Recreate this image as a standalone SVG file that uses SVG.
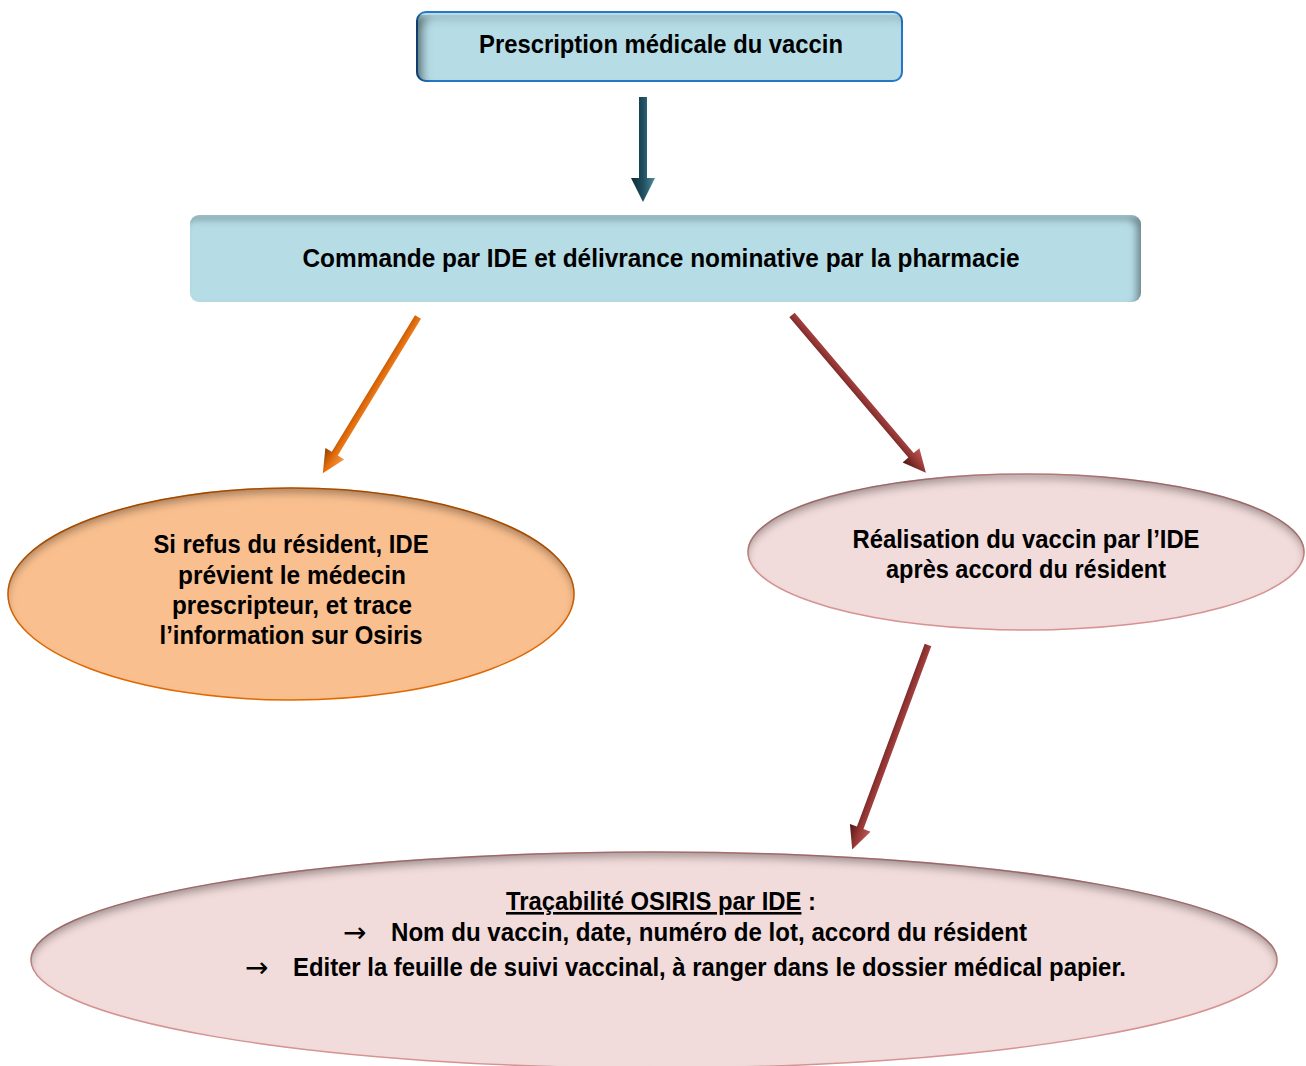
<svg xmlns="http://www.w3.org/2000/svg" width="1306" height="1066" viewBox="0 0 1306 1066">
<defs>
<style>
.t{font-family:"Liberation Sans",Arial,sans-serif;font-weight:bold;font-size:26px;fill:#000;text-anchor:middle}
.ts{font-family:"Liberation Sans",Arial,sans-serif;font-weight:bold;font-size:26px;fill:#000}
.ar{font-family:"DejaVu Sans",sans-serif;font-size:28px;fill:#000}
</style>
<filter id="innerTL" x="-5%" y="-5%" width="110%" height="110%">
<feFlood flood-color="#000" flood-opacity="0.8"/>
<feComposite in2="SourceAlpha" operator="out"/>
<feGaussianBlur stdDeviation="5"/>
<feOffset dx="7" dy="7"/>
<feComposite in2="SourceAlpha" operator="in" result="sh"/>
<feMerge><feMergeNode in="SourceGraphic"/><feMergeNode in="sh"/></feMerge>
</filter>
<filter id="innerTR" x="-5%" y="-5%" width="110%" height="110%">
<feFlood flood-color="#000" flood-opacity="0.65"/>
<feComposite in2="SourceAlpha" operator="out"/>
<feGaussianBlur stdDeviation="3.5"/>
<feOffset dx="-5" dy="5"/>
<feComposite in2="SourceAlpha" operator="in" result="sh"/>
<feMerge><feMergeNode in="SourceGraphic"/><feMergeNode in="sh"/></feMerge>
</filter>
<filter id="innerT" x="-5%" y="-5%" width="110%" height="110%">
<feFlood flood-color="#000" flood-opacity="0.6"/>
<feComposite in2="SourceAlpha" operator="out"/>
<feGaussianBlur stdDeviation="4"/>
<feOffset dx="0" dy="6"/>
<feComposite in2="SourceAlpha" operator="in" result="sh"/>
<feMerge><feMergeNode in="SourceGraphic"/><feMergeNode in="sh"/></feMerge>
</filter>
<linearGradient id="gTeal" x1="0" y1="0" x2="0" y2="1">
<stop offset="0" stop-color="#4f8a9c"/><stop offset="0.5" stop-color="#1f4e5f"/><stop offset="1" stop-color="#0e2a34"/>
</linearGradient>
<linearGradient id="gOrange" x1="0" y1="0" x2="0" y2="1">
<stop offset="0" stop-color="#f59a4a"/><stop offset="0.5" stop-color="#e36c0a"/><stop offset="1" stop-color="#8a3f04"/>
</linearGradient>
<linearGradient id="gMaroon" x1="0" y1="0" x2="0" y2="1">
<stop offset="0" stop-color="#c05a58"/><stop offset="0.5" stop-color="#943634"/><stop offset="1" stop-color="#4a1716"/>
</linearGradient>
</defs>
<rect width="1306" height="1066" fill="#fff"/>

<g id="connectors">
<path transform="translate(643,97) rotate(90)" d="M0,-4 L81,-4 L81,-12 L105,0 L81,12 L81,4 L0,4 Z" fill="url(#gTeal)"/>
<path transform="translate(418,317) rotate(121.34)" d="M0,-3.5 L160,-3.5 L160,-11 L183,0 L160,11 L160,3.5 L0,3.5 Z" fill="url(#gOrange)"/>
<path transform="translate(792,315) rotate(49.7)" d="M0,-3.5 L184,-3.5 L184,-11 L207,0 L184,11 L184,3.5 L0,3.5 Z" fill="url(#gMaroon)"/>
<path transform="translate(928,645) rotate(110.34)" d="M0,-3.5 L195,-3.5 L195,-11 L218,0 L195,11 L195,3.5 L0,3.5 Z" fill="url(#gMaroon)"/>
</g>

<g id="prescription">
<rect x="417" y="12" width="485" height="69" rx="9" fill="#b6dde6" stroke="#2a78c8" stroke-width="2" filter="url(#innerTL)"/>
<text class="t" x="661" y="53" textLength="364" lengthAdjust="spacingAndGlyphs">Prescription médicale du vaccin</text>
</g>

<g id="commande">
<rect x="190" y="215" width="951" height="87" rx="9" fill="#b6dde6" filter="url(#innerTR)"/>
<text class="t" x="661" y="267" textLength="717" lengthAdjust="spacingAndGlyphs">Commande par IDE et délivrance nominative par la pharmacie</text>
</g>

<g id="refus">
<ellipse cx="291" cy="594" rx="283" ry="106" fill="#f9bf8f" stroke="#e36c0a" stroke-width="1.5" filter="url(#innerT)"/>
<text class="t" x="291" y="553" textLength="275" lengthAdjust="spacingAndGlyphs">Si refus du résident, IDE</text>
<text class="t" x="292" y="584" textLength="228" lengthAdjust="spacingAndGlyphs">prévient le médecin</text>
<text class="t" x="292" y="614" textLength="240" lengthAdjust="spacingAndGlyphs">prescripteur, et trace</text>
<text class="t" x="291" y="644" textLength="263" lengthAdjust="spacingAndGlyphs">l’information sur Osiris</text>
</g>

<g id="realisation">
<ellipse cx="1026" cy="552" rx="278" ry="78" fill="#f2dcdb" stroke="#d99594" stroke-width="1.5" filter="url(#innerT)"/>
<text class="t" x="1026" y="548" textLength="347" lengthAdjust="spacingAndGlyphs">Réalisation du vaccin par l’IDE</text>
<text class="t" x="1026" y="578" textLength="280" lengthAdjust="spacingAndGlyphs">après accord du résident</text>
</g>

<g id="tracabilite">
<ellipse cx="654" cy="960" rx="623" ry="108" fill="#f2dcdb" stroke="#d99594" stroke-width="1.5" filter="url(#innerT)"/>
<text class="ts" x="506" y="910" textLength="310" lengthAdjust="spacingAndGlyphs"><tspan text-decoration="underline">Traçabilité OSIRIS par IDE</tspan> :</text>
<text class="ar" x="343" y="942">→</text>
<text class="ts" x="391" y="941" textLength="636" lengthAdjust="spacingAndGlyphs">Nom du vaccin, date, numéro de lot, accord du résident</text>
<text class="ar" x="245" y="977">→</text>
<text class="ts" x="293" y="976" textLength="833" lengthAdjust="spacingAndGlyphs">Editer la feuille de suivi vaccinal, à ranger dans le dossier médical papier.</text>
</g>
</svg>
